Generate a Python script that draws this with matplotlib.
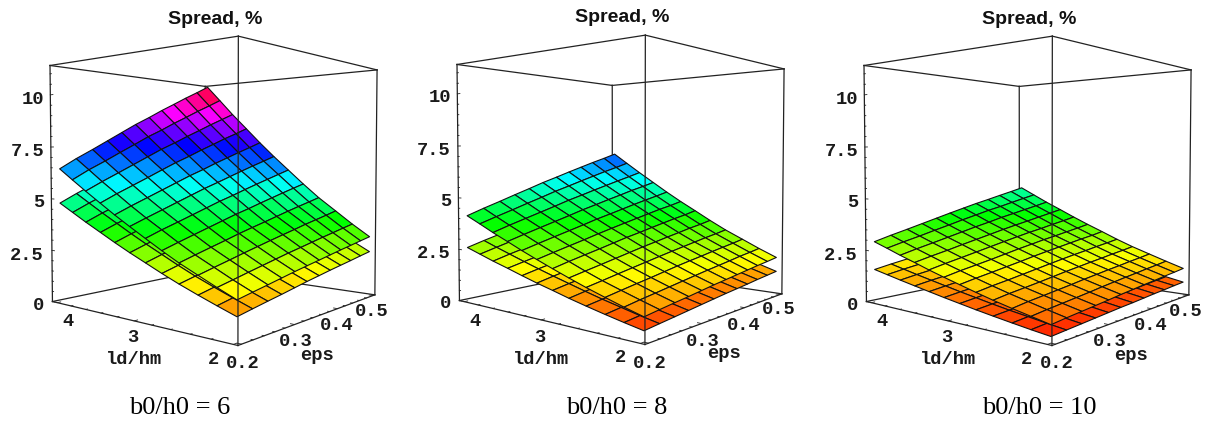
import numpy as np
import matplotlib
matplotlib.use("Agg")
import matplotlib.pyplot as plt
from matplotlib.colors import hsv_to_rgb

W, H = 1210, 421
ld_vals = [2.0, 2.18, 2.36, 2.55, 2.73, 2.91, 3.09, 3.27, 3.45, 3.64, 3.82, 4.0]
eps_vals = [0.2, 0.227, 0.255, 0.282, 0.309, 0.336, 0.364, 0.391, 0.418, 0.445, 0.473, 0.5]

# rows follow ld_vals, columns follow eps_vals
upper_6 = [
 [1.64,1.77,1.90,2.03,2.16,2.28,2.40,2.52,2.64,2.75,2.87,2.98],
 [1.98,2.13,2.29,2.44,2.59,2.74,2.88,3.02,3.16,3.29,3.43,3.56],
 [2.34,2.52,2.70,2.88,3.05,3.22,3.39,3.55,3.72,3.87,4.03,4.19],
 [2.72,2.93,3.14,3.34,3.55,3.74,3.93,4.12,4.31,4.49,4.67,4.85],
 [3.13,3.37,3.61,3.84,4.07,4.30,4.51,4.73,4.94,5.15,5.36,5.56],
 [3.56,3.84,4.10,4.36,4.62,4.88,5.12,5.37,5.61,5.84,6.08,6.31],
 [4.00,4.30,4.60,4.89,5.18,5.47,5.74,6.01,6.28,6.54,6.80,7.06],
 [4.45,4.79,5.12,5.44,5.76,6.08,6.38,6.69,6.98,7.27,7.56,7.85],
 [4.93,5.31,5.67,6.02,6.38,6.73,7.06,7.40,7.72,8.05,8.36,8.68],
 [5.44,5.85,6.25,6.64,7.03,7.42,7.78,8.15,8.50,8.86,9.21,9.55],
 [5.94,6.40,6.82,7.25,7.67,8.10,8.49,8.90,9.28,9.67,10.05,10.43],
 [6.45,6.94,7.40,7.86,8.32,8.78,9.21,9.65,10.06,10.48,10.89,11.30],
]
lower_6 = [
 [1.00,1.12,1.24,1.35,1.47,1.59,1.70,1.81,1.91,2.01,2.12,2.22],
 [1.27,1.41,1.55,1.68,1.82,1.96,2.08,2.21,2.33,2.45,2.58,2.69],
 [1.55,1.71,1.88,2.03,2.19,2.35,2.50,2.65,2.78,2.92,3.07,3.20],
 [1.86,2.04,2.23,2.40,2.58,2.77,2.94,3.11,3.26,3.42,3.59,3.75],
 [2.18,2.39,2.60,2.80,3.00,3.21,3.40,3.60,3.78,3.96,4.14,4.32],
 [2.52,2.76,2.99,3.22,3.45,3.68,3.90,4.11,4.32,4.52,4.73,4.93],
 [2.86,3.13,3.39,3.64,3.90,4.15,4.39,4.63,4.86,5.09,5.31,5.54],
 [3.22,3.52,3.80,4.08,4.37,4.65,4.91,5.18,5.43,5.68,5.93,6.19],
 [3.60,3.93,4.24,4.55,4.86,5.17,5.46,5.76,6.03,6.31,6.59,6.86],
 [4.00,4.36,4.70,5.04,5.38,5.72,6.04,6.36,6.67,6.97,7.27,7.58],
 [4.40,4.79,5.16,5.53,5.90,6.27,6.61,6.97,7.30,7.63,7.96,8.29],
 [4.80,5.22,5.62,6.02,6.42,6.82,7.19,7.57,7.93,8.29,8.64,9.00],
]
upper_8 = [
 [0.96,1.05,1.14,1.22,1.31,1.40,1.48,1.56,1.64,1.72,1.79,1.87],
 [1.18,1.29,1.39,1.49,1.59,1.69,1.79,1.88,1.97,2.07,2.15,2.24],
 [1.42,1.54,1.66,1.77,1.89,2.01,2.12,2.22,2.33,2.43,2.53,2.64],
 [1.68,1.81,1.95,2.08,2.21,2.34,2.47,2.59,2.71,2.83,2.94,3.06],
 [1.95,2.10,2.25,2.40,2.55,2.70,2.84,2.98,3.11,3.25,3.37,3.51],
 [2.23,2.41,2.58,2.74,2.91,3.08,3.23,3.39,3.54,3.69,3.83,3.99],
 [2.52,2.71,2.90,3.08,3.27,3.45,3.63,3.80,3.97,4.14,4.29,4.46],
 [2.82,3.03,3.24,3.44,3.64,3.85,4.04,4.23,4.42,4.60,4.78,4.96],
 [3.14,3.37,3.60,3.82,4.04,4.27,4.48,4.69,4.89,5.10,5.29,5.49],
 [3.47,3.73,3.98,4.22,4.46,4.71,4.94,5.17,5.39,5.61,5.83,6.05],
 [3.81,4.08,4.35,4.62,4.88,5.15,5.40,5.65,5.89,6.13,6.36,6.60],
 [4.14,4.44,4.73,5.02,5.30,5.59,5.86,6.13,6.39,6.65,6.90,7.16],
]
lower_8 = [
 [0.43,0.50,0.57,0.64,0.71,0.78,0.85,0.91,0.97,1.04,1.10,1.16],
 [0.58,0.66,0.75,0.83,0.91,0.99,1.07,1.14,1.21,1.29,1.36,1.43],
 [0.74,0.84,0.93,1.03,1.12,1.21,1.30,1.38,1.47,1.55,1.64,1.72],
 [0.92,1.03,1.13,1.24,1.34,1.45,1.55,1.65,1.74,1.84,1.93,2.02],
 [1.10,1.23,1.35,1.46,1.58,1.70,1.82,1.92,2.03,2.14,2.25,2.35],
 [1.30,1.44,1.57,1.70,1.83,1.97,2.10,2.22,2.34,2.46,2.58,2.70],
 [1.49,1.65,1.80,1.94,2.09,2.24,2.38,2.51,2.65,2.78,2.91,3.04],
 [1.70,1.87,2.03,2.20,2.35,2.52,2.68,2.82,2.97,3.12,3.26,3.41],
 [1.92,2.10,2.28,2.46,2.63,2.81,2.99,3.15,3.31,3.47,3.63,3.79],
 [2.14,2.35,2.55,2.74,2.93,3.13,3.31,3.49,3.67,3.84,4.02,4.19],
 [2.37,2.59,2.81,3.02,3.22,3.44,3.64,3.84,4.03,4.22,4.41,4.60],
 [2.60,2.84,3.07,3.30,3.52,3.75,3.97,4.18,4.39,4.59,4.80,5.00],
]
upper_10 = [
 [0.70,0.77,0.83,0.89,0.95,1.02,1.08,1.14,1.19,1.25,1.30,1.36],
 [0.86,0.94,1.01,1.08,1.15,1.23,1.30,1.37,1.43,1.50,1.56,1.63],
 [1.02,1.12,1.20,1.28,1.36,1.45,1.53,1.61,1.68,1.76,1.83,1.91],
 [1.20,1.31,1.40,1.49,1.59,1.69,1.78,1.87,1.95,2.04,2.12,2.21],
 [1.39,1.51,1.61,1.72,1.83,1.94,2.05,2.15,2.24,2.34,2.43,2.53],
 [1.59,1.72,1.84,1.96,2.08,2.21,2.33,2.44,2.55,2.66,2.76,2.88],
 [1.79,1.94,2.07,2.20,2.34,2.48,2.61,2.74,2.85,2.97,3.09,3.22],
 [2.00,2.16,2.31,2.46,2.61,2.76,2.91,3.05,3.17,3.31,3.44,3.58],
 [2.23,2.40,2.56,2.73,2.89,3.05,3.22,3.37,3.51,3.66,3.81,3.96],
 [2.46,2.65,2.83,3.01,3.19,3.37,3.54,3.72,3.87,4.03,4.19,4.35],
 [2.70,2.90,3.09,3.29,3.48,3.68,3.87,4.06,4.22,4.40,4.58,4.75],
 [2.93,3.15,3.36,3.57,3.78,3.99,4.20,4.40,4.58,4.77,4.96,5.15],
]
lower_10 = [
 [0.25,0.29,0.33,0.37,0.41,0.45,0.48,0.52,0.56,0.59,0.63,0.66],
 [0.34,0.39,0.44,0.48,0.53,0.58,0.61,0.66,0.70,0.74,0.78,0.82],
 [0.44,0.50,0.55,0.60,0.66,0.71,0.75,0.81,0.86,0.90,0.95,0.99],
 [0.55,0.61,0.67,0.73,0.79,0.85,0.91,0.96,1.02,1.07,1.13,1.18],
 [0.66,0.73,0.80,0.87,0.94,1.00,1.07,1.13,1.20,1.25,1.32,1.37],
 [0.78,0.86,0.94,1.01,1.09,1.17,1.24,1.31,1.38,1.45,1.51,1.58],
 [0.90,0.99,1.07,1.16,1.24,1.33,1.41,1.49,1.56,1.64,1.71,1.79],
 [1.03,1.13,1.22,1.31,1.40,1.50,1.59,1.67,1.76,1.84,1.92,2.01],
 [1.16,1.27,1.37,1.47,1.57,1.68,1.77,1.87,1.96,2.06,2.14,2.24],
 [1.30,1.42,1.53,1.64,1.75,1.86,1.97,2.08,2.18,2.28,2.38,2.48],
 [1.44,1.57,1.69,1.81,1.93,2.05,2.17,2.28,2.39,2.51,2.61,2.72],
 [1.58,1.72,1.85,1.98,2.11,2.24,2.37,2.49,2.61,2.73,2.84,2.96],
]
upper = [upper_6, upper_8, upper_10]
lower = [lower_6, lower_8, lower_10]
captions = ["b0/h0 = 6", "b0/h0 = 8", "b0/h0 = 10"]
z_ticks = ["0", "2.5", "5", "7.5", "10"]
ld_ticks = ["2", "3", "4"]
eps_ticks = ["0.2", "0.3", "0.4", "0.5"]

ZTOP = 11.4
ELO, EHI, LLO, LHI = 0.194, 0.506, 1.96, 4.07
K = 2095.0
F = 0.3026

fig = plt.figure(figsize=(W/100, H/100), dpi=100)

def T(px, py, s, **kw):
    fig.text(px/W, 1-py/H, s, ha=kw.pop('ha', 'center'), va=kw.pop('va', 'center'), **kw)

def panel(i, dx, dy, cap_x):
    left = 18.5+dx; top = -4.8+dy; size = 0.185*K
    ax = fig.add_axes([left/W, 1-(top+size)/H, size/W, size/H], projection='3d', computed_zorder=False)
    ax.set_box_aspect((1, 1, 1))
    ax.set_proj_type('persp', focal_length=F)
    ax.view_init(elev=2.25, azim=-140.4)
    ax.set_xlim(ELO, EHI, view_margin=0); ax.set_ylim(LLO, LHI, view_margin=0); ax.set_zlim(0, ZTOP, view_margin=0)
    ax.set_axis_off(); ax.patch.set_alpha(0)
    lc = '#222222'; lw = 0.9
    def seg(a, b, z=1, lw=lw):
        ax.plot([a[0], b[0]], [a[1], b[1]], [a[2], b[2]], color=lc, lw=lw, zorder=z)
    n0=(ELO,LLO,0); l0=(ELO,LHI,0); r0=(EHI,LLO,0); f0=(EHI,LHI,0)
    n1=(ELO,LLO,ZTOP); l1=(ELO,LHI,ZTOP); r1=(EHI,LLO,ZTOP); f1=(EHI,LHI,ZTOP)
    for a, b in [(l0,f0),(r0,f0),(f0,f1),(l0,l1),(r0,r1),(l1,n1),(n1,r1),(r1,f1),(f1,l1)]:
        seg(a, b, 1)
    seg(n0, l0, 1); seg(n0, r0, 1)
    seg(n0, n1, 5)
    e, l = np.meshgrid(eps_vals, ld_vals)
    for Zs, zo in ((lower[i], 2), (upper[i], 3)):
        Z = np.array(Zs, float)
        c = (Z[:-1,:-1]+Z[1:,:-1]+Z[:-1,1:]+Z[1:,1:])/4
        rgb = hsv_to_rgb(np.dstack([np.clip(c/ZTOP,0,1), np.ones_like(c), np.ones_like(c)]))
        ax.plot_surface(e, l, Z, facecolors=rgb, shade=False, edgecolor='#111111', linewidth=0.8, rstride=1, cstride=1, zorder=zo)
    for zt in np.arange(0, 11.01, 0.5):
        L = 0.018 if abs(zt/2.5-round(zt/2.5))<1e-6 else 0.009
        seg((ELO,LHI,zt),(ELO,LHI-L*(LHI-LLO),zt),1,0.6)
    for t in np.arange(2, 4.01, 0.2):
        L = 0.018 if abs(t-round(t))<1e-6 else 0.009
        seg((ELO,t,0),(ELO+L*(EHI-ELO),t,0),1,0.6)
    for t in np.arange(0.2, 0.501, 0.02):
        L = 0.018 if abs(t*10-round(t*10))<1e-6 else 0.009
        seg((t,LLO,0),(t,LLO+L*(LHI-LLO),0),1,0.6)
    mono = dict(family='Liberation Mono', weight='bold', fontsize=13.5, color='#1a1a1a')
    for lab, y in zip(z_ticks, [305, 255, 202, 151, 99]):
        T(44+dx, y+dy, lab, ha='right', **mono)
    for lab, (x, y) in zip(ld_ticks, [(213,359),(133,338),(68,322)]):
        T(x+dx, y+dy, lab, **mono)
    for lab, (x, y) in zip(eps_ticks, [(243,364),(296,342),(337,326),(372,311)]):
        T(x+dx, y+dy, lab, **mono)
    T(134+dx, 360+dy, 'ld/hm', **mono)
    T(317+dx, 355+dy, 'eps', **mono)
    T(215+dx, 19+dy, 'Spread, %', family='Liberation Sans', weight='bold', fontsize=14, color='#111111')
    T(cap_x, 408, captions[i], family='Liberation Serif', fontsize=19, color='black')

panel(0, 0, 0, 180)
panel(1, 407, -1, 617)
panel(2, 814, 0, 1039)
fig.savefig('out.png', dpi=100)
